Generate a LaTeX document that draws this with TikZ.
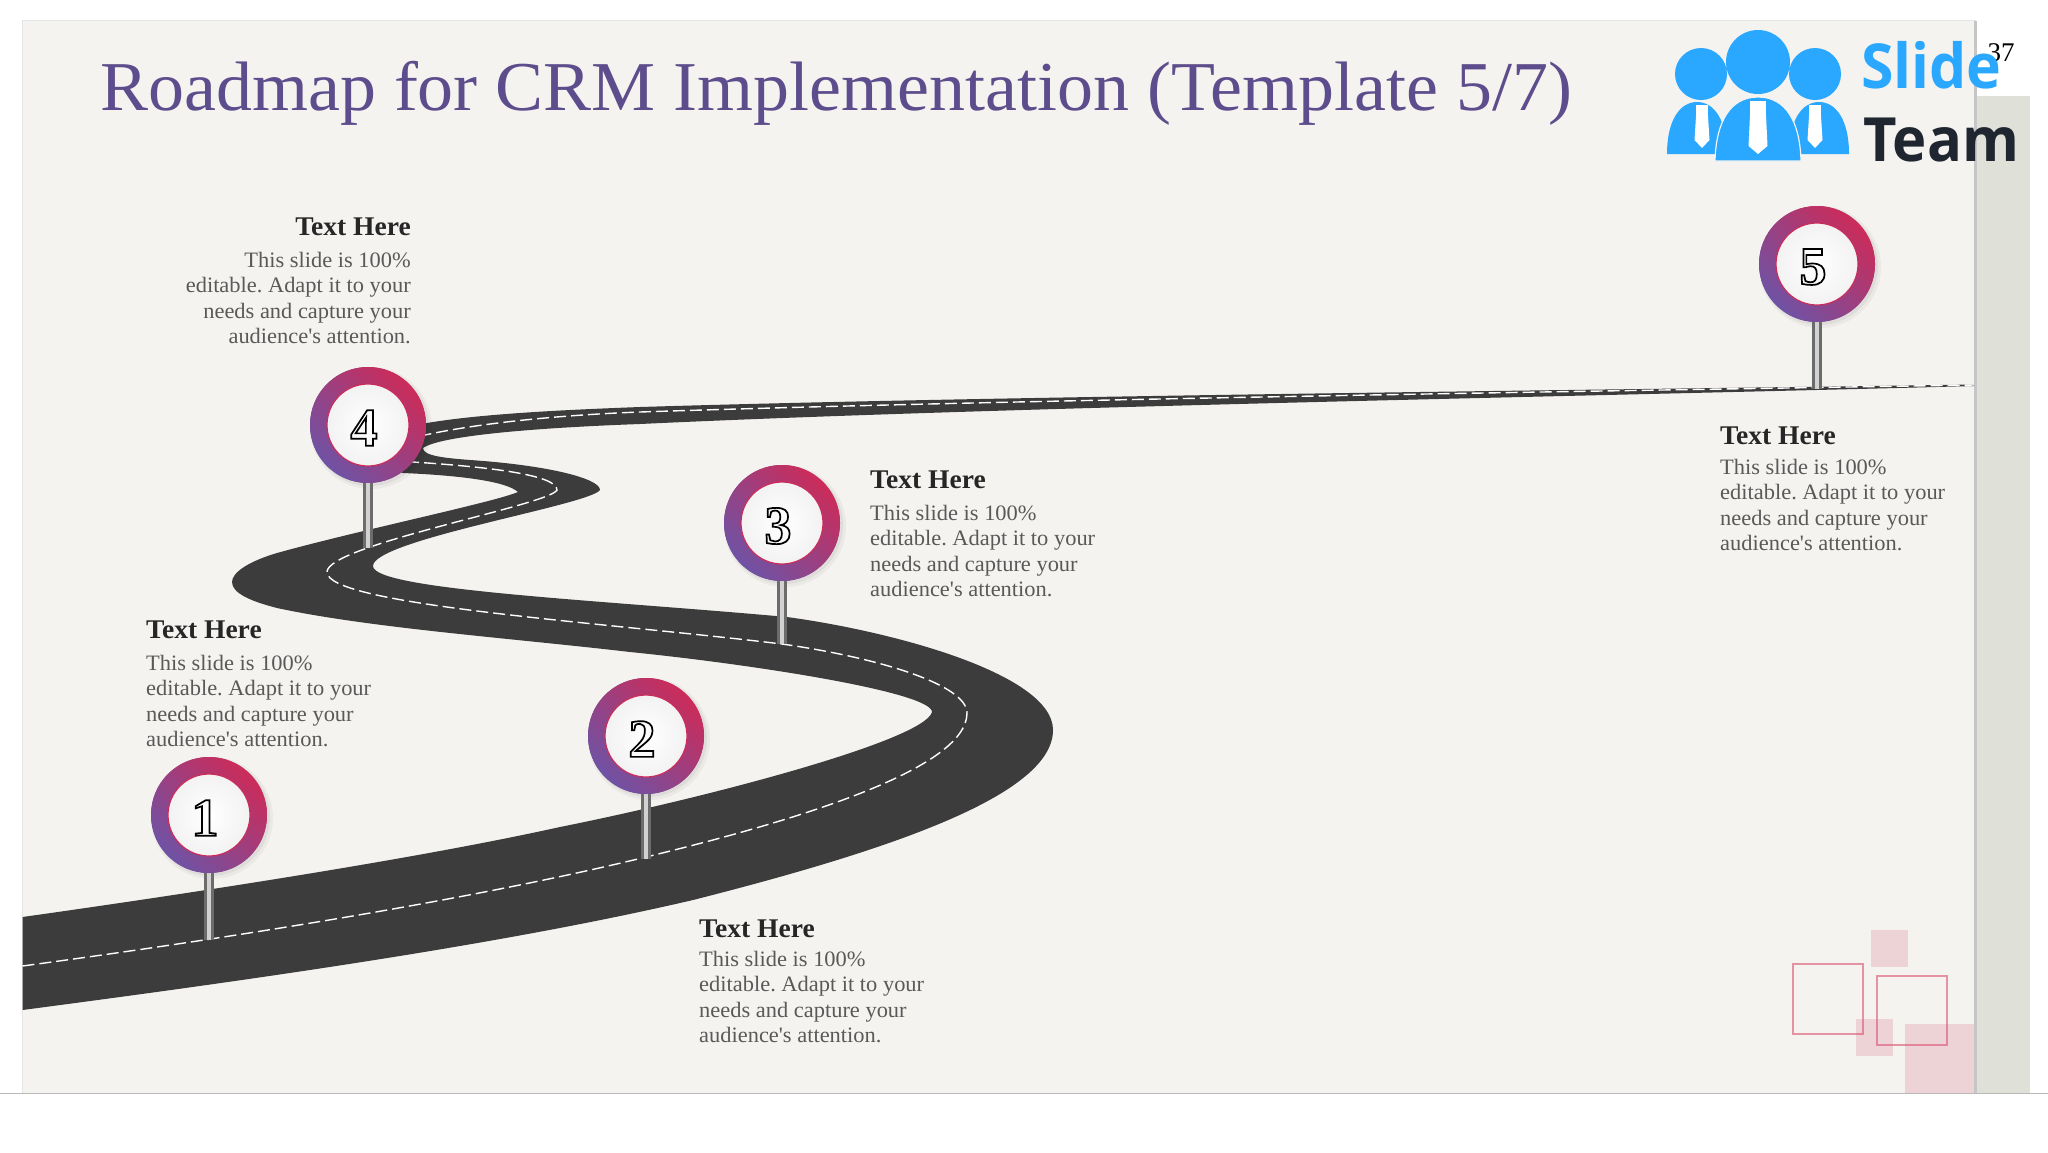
\documentclass[tikz,border=0pt]{standalone}
\usepackage{fontspec}
\setmainfont{Liberation Serif}
\newfontfamily\bodyfam[FakeStretch=1.02]{Liberation Serif}
\newfontfamily\titlefam[FakeStretch=1.028]{Liberation Serif}
\newfontfamily\logofont[FakeStretch=.95]{Open Sans}
\definecolor{panel}{HTML}{F4F3F0}
\definecolor{strip}{HTML}{DFE1D9}
\definecolor{roadc}{HTML}{3D3C3C}
\definecolor{titlec}{HTML}{5E4D8C}
\definecolor{bodyc}{HTML}{595959}
\definecolor{headc}{HTML}{262626}
\definecolor{logob}{HTML}{2AA7FF}
\definecolor{logod}{HTML}{1F2630}
\definecolor{ringr}{HTML}{CB2C5A}
\definecolor{ringp}{HTML}{6F52A4}
\definecolor{pinkc}{HTML}{D9536F}
\tikzset{
  x=1pt,y=-1pt,
  ring/.style={circle,minimum size=116pt,inner sep=0pt,shading=axis,left color=ringp,right color=ringr,shading angle=135},
  disc/.style={circle,minimum size=82pt,inner sep=0pt,draw=ringr,line width=1.2pt,inner color=white,outer color=white!90!gray},
  digit/.style={inner sep=0pt,font=\fontsize{54}{54}\selectfont\bfseries},
  polebase/.style={line width=10pt,draw=gray!85!black},
  polelite/.style={line width=4pt,draw=gray!35},
  heading/.style={inner sep=0pt,text=headc,font=\bodyfam\fontsize{27}{30}\selectfont\bfseries},
  bodytext/.style={inner sep=0pt,text=bodyc,font=\bodyfam\fontsize{22}{25.6}\selectfont\frenchspacing},
  lane/.style={draw=white,line width=1.4pt,dash pattern=on 12pt off 5pt},
  softfill/.style={fill=pinkc,fill opacity=.2,draw=none},
  softline/.style={draw=pinkc,draw opacity=.6,line width=1.6pt,fill=none}
}
\newcommand{\dig}[1]{\special{pdf:literal 1 Tr 1.7 w}#1\special{pdf:literal 0 Tr}}
\begin{document}
\begin{tikzpicture}
\useasboundingbox (0,0) rectangle (2048,1152);
\fill[white] (0,0) rectangle (2048,1152);
% strip and panel
\fill[strip] (1974,96) rectangle (2030,1093);
\fill[gray!20] (22,19.5) rectangle (1976,1093);
\fill[gray!45] (1974,21) rectangle (1977,1093);
\fill[panel] (22.5,21) rectangle (1974,1093);
\draw[gray!55,line width=1pt] (0,1093.5) -- (2048,1093.5);
% squares
\fill[softfill] (1871,930) rectangle (1908,967);
\fill[softfill] (1856,1019) rectangle (1893,1056);
\fill[softfill] (1905,1024) rectangle (1974,1093);
\draw[softline] (1793,964) rectangle (1863,1034);
\draw[softline] (1877,976) rectangle (1947,1045);
% title
\node[anchor=west,inner sep=0pt,text=titlec,font=\titlefam\fontsize{70}{80}\selectfont] (title) at (100,93) {Roadmap for CRM Implementation (Template 5/7)};
% page number
\node[inner sep=0pt,font=\fontsize{27}{30}\selectfont] (pagenum) at (2001,53) {37};
% road
\fill[roadc] (22.5,1010)
 .. controls (250,980) and (500,945) .. (693,900)
 .. controls (890,850) and (1053,795) .. (1053,730)
 .. controls (1053,675) and (897,632) .. (787,617)
 .. controls (600,600) and (373,590) .. (373,566)
 .. controls (373,540) and (590,505) .. (600,490)
 .. controls (600,478) and (545,465) .. (470,460)
 .. controls (445,458) and (423,456) .. (423,448)
 .. controls (440,436) and (530,428) .. (640,424)
 .. controls (1000,407) and (1600,396) .. (1974,386)
 -- (1974,384.5)
 .. controls (1600,390) and (1000,396) .. (640,407)
 .. controls (560,410) and (480,414) .. (427,423)
 .. controls (380,432) and (375,466) .. (403,473)
 .. controls (450,475) and (505,480) .. (518,492)
 .. controls (495,502) and (360,530) .. (277,553)
 .. controls (250,561) and (232,572) .. (232,582)
 .. controls (232,593) and (250,601) .. (277,608)
 .. controls (370,628) and (510,638) .. (630,652)
 .. controls (750,664) and (932,692) .. (932,712)
 .. controls (925,740) and (710,797) .. (560,827)
 .. controls (420,858) and (200,892) .. (22.5,917)
 -- cycle;
\draw[lane] (22.5,966)
 .. controls (230,938) and (470,900) .. (646,857)
 .. controls (790,822) and (967,770) .. (967,713)
 .. controls (967,685) and (880,658) .. (782,644)
 .. controls (600,622) and (327,605) .. (327,572)
 .. controls (327,545) and (550,505) .. (557,490)
 .. controls (557,475) and (490,467) .. (413,462)
 .. controls (380,458) and (380,445) .. (425,435)
 .. controls (480,423) and (560,415) .. (640,412)
 .. controls (1000,400) and (1600,391) .. (1974,385);
\coordinate (e1) at (209,940);
\coordinate (e2) at (646,859);
\coordinate (e3) at (782,644);
\coordinate (e4) at (368,548);
\coordinate (e5) at (1817,389);
% signs
\foreach \n/\cx/\cy in {1/209/815,2/646/736,3/782/523,4/368/425,5/1817/264}{
  \fill[black,opacity=.04] (\cx+3,\cy+3) circle (61);
  \fill[black,opacity=.05] (\cx+2,\cy+2) circle (59);
  \node[ring] (r\n) at (\cx,\cy) {};
  \draw[polebase] (r\n.south) -- (e\n);
  \draw[polelite] (r\n.south) -- (e\n);
  \node[ring] (rr\n) at (\cx,\cy) {};
  \node[disc] (d\n) at (\cx,\cy) {};
  \node[digit] (n\n) at (\cx-4,\cy+3) {\dig{\n}};
}
% texts
\node[heading,anchor=east] (h4) at (411,227) {Text Here};
\node[bodytext,anchor=east,align=right] (b4) at (411,298) {This slide is 100\%\\editable. Adapt it to your\\needs and capture your\\audience's attention.};
\node[heading,anchor=west] (h1) at (146,630) {Text Here};
\node[bodytext,anchor=west,align=left] (b1) at (146,701) {This slide is 100\%\\editable. Adapt it to your\\needs and capture your\\audience's attention.};
\node[heading,anchor=west] (h2) at (699,929) {Text Here};
\node[bodytext,anchor=west,align=left] (b2) at (699,997) {This slide is 100\%\\editable. Adapt it to your\\needs and capture your\\audience's attention.};
\node[heading,anchor=west] (h3) at (870,480) {Text Here};
\node[bodytext,anchor=west,align=left] (b3) at (870,551) {This slide is 100\%\\editable. Adapt it to your\\needs and capture your\\audience's attention.};
\node[heading,anchor=west] (h5) at (1720,436) {Text Here};
\node[bodytext,anchor=west,align=left] (b5) at (1720,505) {This slide is 100\%\\editable. Adapt it to your\\needs and capture your\\audience's attention.};
% logo
\fill[logob] (1701,74) circle (26) (1815,74) circle (26) (1758,62) circle (32);
\fill[logob] (1667,154) .. controls (1667,120) and (1680,102) .. (1697,102) .. controls (1714,102) and (1727,120) .. (1727,154) -- cycle;
\fill[logob] (1789,154) .. controls (1789,120) and (1802,102) .. (1819,102) .. controls (1836,102) and (1849,120) .. (1849,154) -- cycle;
\fill[logob,draw=panel,line width=1.2pt] (1715,161) .. controls (1716,122) and (1730,97) .. (1758,97) .. controls (1786,97) and (1800,122) .. (1801,161) -- cycle;
\foreach \tx/\ky/\kb/\w/\tip in {1702/105/116/7.5/148,1815/105/116/7.5/148,1758/101/115/9.5/154}{
  \fill[white] (\tx-\w+1.5,\ky) rectangle (\tx+\w-1.5,\kb);
  \fill[white] (\tx-\w+1.5,\kb) -- (\tx+\w-1.5,\kb) -- (\tx+\w,\tip-8) -- (\tx,\tip) -- (\tx-\w,\tip-8) -- cycle;
}
\node[inner sep=0pt,anchor=base west,text=logob,font=\logofont\bfseries\fontsize{62}{62}\selectfont] (slide) at (1861,88) {Slide};
\node[inner sep=0pt,anchor=base west,text=logod,font=\logofont\bfseries\fontsize{61}{61}\selectfont] (team) at (1863,161) {Team};
\end{tikzpicture}
\end{document}
